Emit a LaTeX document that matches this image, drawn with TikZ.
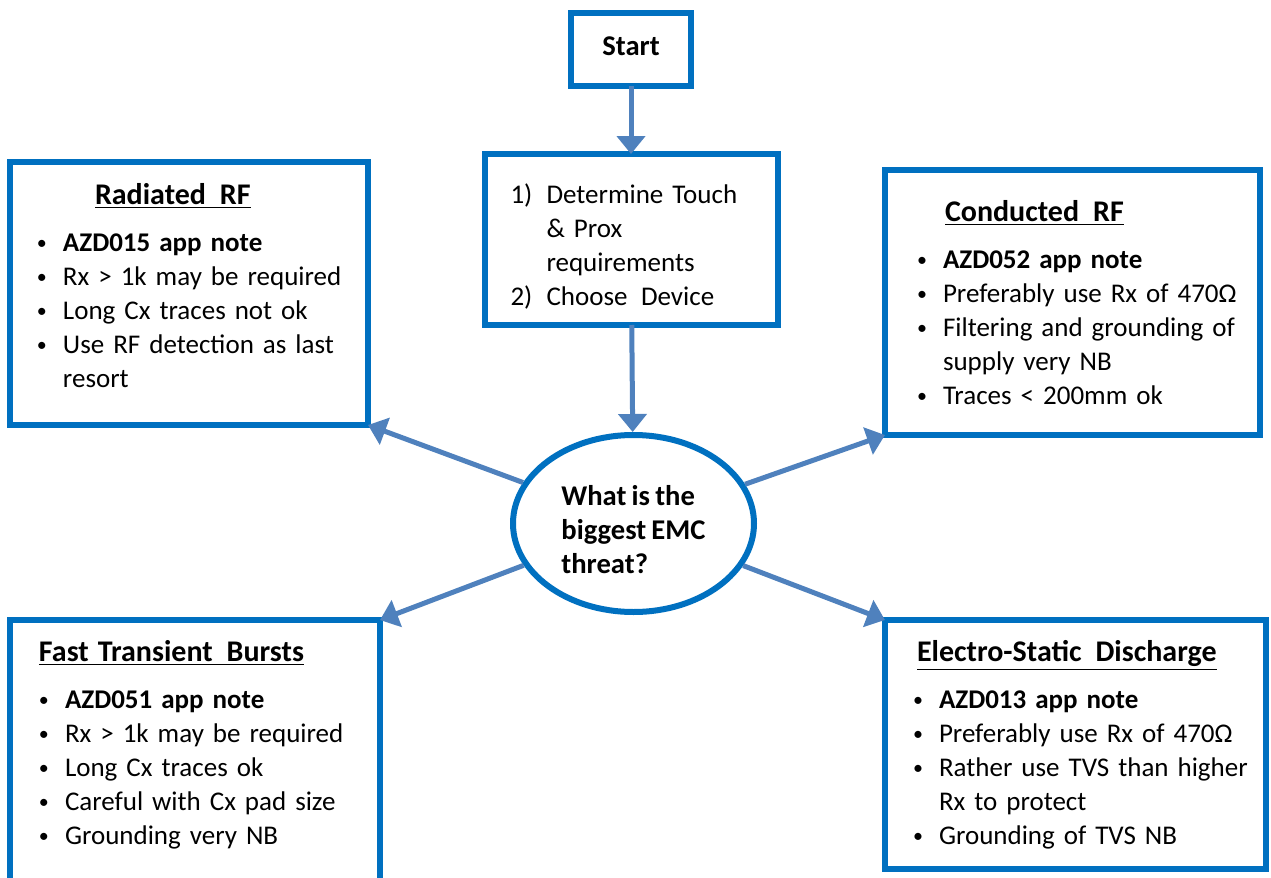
\documentclass[tikz,border=0pt]{standalone}
\usepackage{fontspec}
\setmainfont{Carlito}[WordSpace=0.8]
\usepackage{enumitem}
\usetikzlibrary{arrows.meta,shapes.geometric}

\definecolor{boxblue}{HTML}{0070C0}
\definecolor{arrowblue}{HTML}{4F81BD}

\newlist{notes}{itemize}{1}
\setlist[notes]{label=\raisebox{0.8pt}{\fontsize{10pt}{10pt}\selectfont\textbullet},labelwidth=13pt,labelsep=0pt,align=left,itemsep=0pt,topsep=0pt,parsep=0pt,partopsep=0pt}
\newlist{steps}{enumerate}{1}
\setlist[steps]{label=\arabic*),leftmargin=18pt,labelwidth=18pt,labelsep=0pt,align=left,itemsep=0pt,topsep=0pt,parsep=0pt,partopsep=0pt}

\newcommand{\boxtitle}[2]{\hspace*{#1}{\fontsize{15pt}{17pt}\selectfont\bfseries\underline{#2}}\par\vspace{6.5pt}}

\begin{document}
\begin{tikzpicture}[x=0.5pt,y=-0.5pt,
		box/.style={draw=boxblue,line width=3pt,fill=white,rectangle,align=left,outer sep=0pt,inner xsep=6pt,inner ysep=0pt,font=\fontsize{13.5pt}{17pt}\selectfont},
		arr/.style={draw=arrowblue,line width=2.5pt,-{Triangle[width=14pt,length=9pt]}}]
	\clip (0,0) rectangle (1271,878);
	\node[box,align=center,inner xsep=0pt,minimum width=60pt,minimum height=36.5pt,text depth=3.5pt,font=\fontsize{14.3pt}{17pt}\selectfont\bfseries] (start) at (631,49.5) {Start};
	\node[box,inner xsep=13pt,text width=120.5pt,minimum height=85.5pt] (req) at (631,239.5) {
		\begin{steps}
			\item Determine Touch\newline \& Prox\newline requirements
			\item Choose\ \,Device
		\end{steps}};
	\node[ellipse,draw=boxblue,line width=3pt,fill=white,inner sep=0pt,minimum width=120.5pt,minimum height=88.5pt,text height=50pt,align=left,font=\fontsize{14.3pt}{17pt}\selectfont\bfseries] (ell) at (633.5,523.5) {What is the\\biggest EMC\\threat?};
	\node[box,text width=167pt,minimum height=131.5pt] (rad) at (189,293.5) {
		\boxtitle{36.5pt}{Radiated\ \,RF}
		\begin{notes}[leftmargin=20.5pt]
			\item \textbf{AZD015 app note}
			\item Rx > 1k may be required
			\item Long Cx traces not ok
			\item Use RF detection as last\newline resort
		\end{notes}\par\kern8pt};
	\node[box,text width=175.5pt,minimum height=132.5pt] (cond) at (1072.5,302.5) {
		\boxtitle{24pt}{Conducted\ \,RF}
		\begin{notes}[leftmargin=23pt]
			\item \textbf{AZD052 app note}
			\item Preferably use Rx of 470Ω
			\item Filtering and grounding of\newline supply very NB
			\item Traces < 200mm ok
		\end{notes}};
	\node[box,text width=173pt,minimum height=145pt] (ftb) at (195,765) {
		\boxtitle{8.5pt}{Fast Transient\ \,Bursts}
		\begin{notes}[leftmargin=21.5pt]
			\item \textbf{AZD051 app note}
			\item Rx > 1k may be required
			\item Long Cx traces ok
			\item Careful with Cx pad size
			\item Grounding very NB
		\end{notes}\par\kern20.5pt};
	\node[box,text width=178.5pt,minimum height=124.5pt] (esd) at (1075.5,744.5) {
		\boxtitle{10pt}{Electro-Static\ \,Discharge}
		\begin{notes}[leftmargin=21pt]
			\item \textbf{AZD013 app note}
			\item Preferably use Rx of 470Ω
			\item Rather use TVS than higher\newline Rx to protect
			\item Grounding of TVS NB
		\end{notes}};
	\draw[arr] (start) -- (req);
	\draw[arr] (req) -- (ell);
	\draw[arr] (ell) -- (rad.south east);
	\draw[arr] (ell) -- (cond.south west);
	\draw[arr] (ell) -- (ftb.north east);
	\draw[arr] (ell) -- (esd.north west);
\end{tikzpicture}
\end{document}
